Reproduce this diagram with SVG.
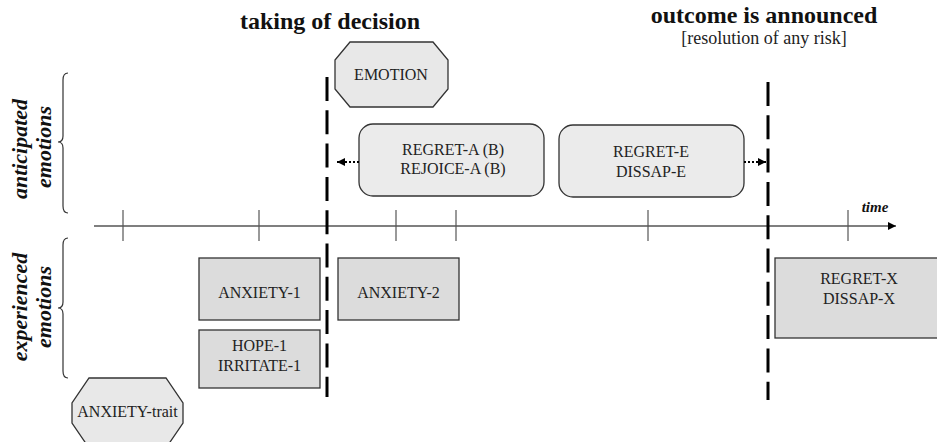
<svg xmlns="http://www.w3.org/2000/svg" width="937" height="442" viewBox="0 0 937 442">
<style>
.lbl{font-family:"Liberation Serif","Times New Roman",serif;font-size:16px;fill:#222;text-anchor:middle}
.title{font-family:"Liberation Serif","Times New Roman",serif;font-size:24px;font-weight:bold;fill:#111;text-anchor:middle}
.sub{font-family:"Liberation Serif","Times New Roman",serif;font-size:18px;fill:#222;text-anchor:middle}
.side{font-family:"Liberation Serif","Times New Roman",serif;font-size:22px;font-weight:bold;font-style:italic;fill:#111;text-anchor:middle}
.oct{fill:#e8e8e8;stroke:#333;stroke-width:1.3}
.rnd{fill:#ebebeb;stroke:#333;stroke-width:1.3}
.rect{fill:#dcdcdc;stroke:#333;stroke-width:1.3}
.brace{fill:none;stroke:#333;stroke-width:1.2}
.tick{stroke:#555;stroke-width:1.2}
.dash{stroke:#000;stroke-width:3;stroke-dasharray:24 9.3}
.dot{stroke:#000;stroke-width:2;stroke-dasharray:2 2;fill:none}
</style>
<defs>
<marker id="ah" viewBox="0 0 10 10" refX="10" refY="5" markerWidth="8" markerHeight="8" markerUnits="userSpaceOnUse" orient="auto">
<path d="M0,0 L10,5 L0,10 z" fill="#000"/>
</marker>
</defs>
<rect width="937" height="442" fill="#fff"/>

<g id="titles">
<text class="title" x="330" y="29">taking of decision</text>
<text class="title" x="764" y="23">outcome is announced</text>
<text class="sub" x="764" y="44">[resolution of any risk]</text>
</g>

<g id="side-labels">
<path class="brace" d="M68,73 Q63,73 63,80 L63,136 Q63,142 58,142 Q63,142 63,148 L63,206 Q63,213 68,213"/>
<text class="side" transform="translate(27,149) rotate(-90)">anticipated</text>
<text class="side" transform="translate(51,147) rotate(-90)">emotions</text>
<path class="brace" d="M68,238 Q63,238 63,245 L63,302 Q63,308 58,308 Q63,308 63,314 L63,371 Q63,378 68,378"/>
<text class="side" transform="translate(27,307) rotate(-90)">experienced</text>
<text class="side" transform="translate(51,307) rotate(-90)">emotions</text>
</g>

<g id="timeline">
<line x1="94" y1="226" x2="896" y2="226" stroke="#000" stroke-width="1.2" marker-end="url(#ah)"/>
<line class="tick" x1="123" y1="210" x2="123" y2="241"/>
<line class="tick" x1="259" y1="210" x2="259" y2="241"/>
<line class="tick" x1="396" y1="210" x2="396" y2="241"/>
<line class="tick" x1="456" y1="210" x2="456" y2="241"/>
<line class="tick" x1="648" y1="210" x2="648" y2="241"/>
<line class="tick" x1="848" y1="210" x2="848" y2="241"/>
<text x="875" y="212" font-family="Liberation Serif,serif" font-size="15" font-weight="bold" font-style="italic" text-anchor="middle" fill="#111">time</text>
</g>

<g id="decision-lines">
<line class="dash" x1="327" y1="77" x2="327" y2="397"/>
<line class="dash" x1="768" y1="82" x2="768" y2="400"/>
</g>

<g id="emotion">
<polygon class="oct" points="350,42 433,42 448,60 448,89 433,107 350,107 335,89 335,60"/>
<text class="lbl" x="391" y="80">EMOTION</text>
</g>

<g id="regret-a">
<rect class="rnd" x="359" y="124" width="185" height="72" rx="14"/>
<text class="lbl" x="453" y="155">REGRET-A (B)</text>
<text class="lbl" x="453" y="174">REJOICE-A (B)</text>
</g>

<g id="regret-e">
<rect class="rnd" x="559" y="125" width="185" height="72" rx="14"/>
<text class="lbl" x="651" y="157">REGRET-E</text>
<text class="lbl" x="651" y="177">DISSAP-E</text>
</g>

<g id="anxiety-1">
<rect class="rect" x="199" y="258" width="121" height="62"/>
<text class="lbl" x="259.5" y="298">ANXIETY-1</text>
</g>

<g id="hope-1">
<rect class="rect" x="199" y="330" width="121" height="58"/>
<text class="lbl" x="259.5" y="351">HOPE-1</text>
<text class="lbl" x="259.5" y="371">IRRITATE-1</text>
</g>

<g id="anxiety-2">
<rect class="rect" x="338" y="258" width="121" height="62"/>
<text class="lbl" x="398.5" y="298">ANXIETY-2</text>
</g>

<g id="regret-x">
<rect class="rect" x="775" y="258" width="170" height="80"/>
<text class="lbl" x="859" y="284">REGRET-X</text>
<text class="lbl" x="859" y="303.5">DISSAP-X</text>
</g>

<g id="anxiety-trait">
<polygon class="oct" points="89,378 166,378 183,403 183,423 166,448 89,448 72,423 72,403"/>
<text class="lbl" x="127.5" y="417">ANXIETY-trait</text>
</g>

<g id="connectors">
<line class="dot" x1="359" y1="162" x2="337" y2="162" marker-end="url(#ah)"/>
<line class="dot" x1="744" y1="162" x2="766" y2="162" marker-end="url(#ah)"/>
</g>
</svg>
